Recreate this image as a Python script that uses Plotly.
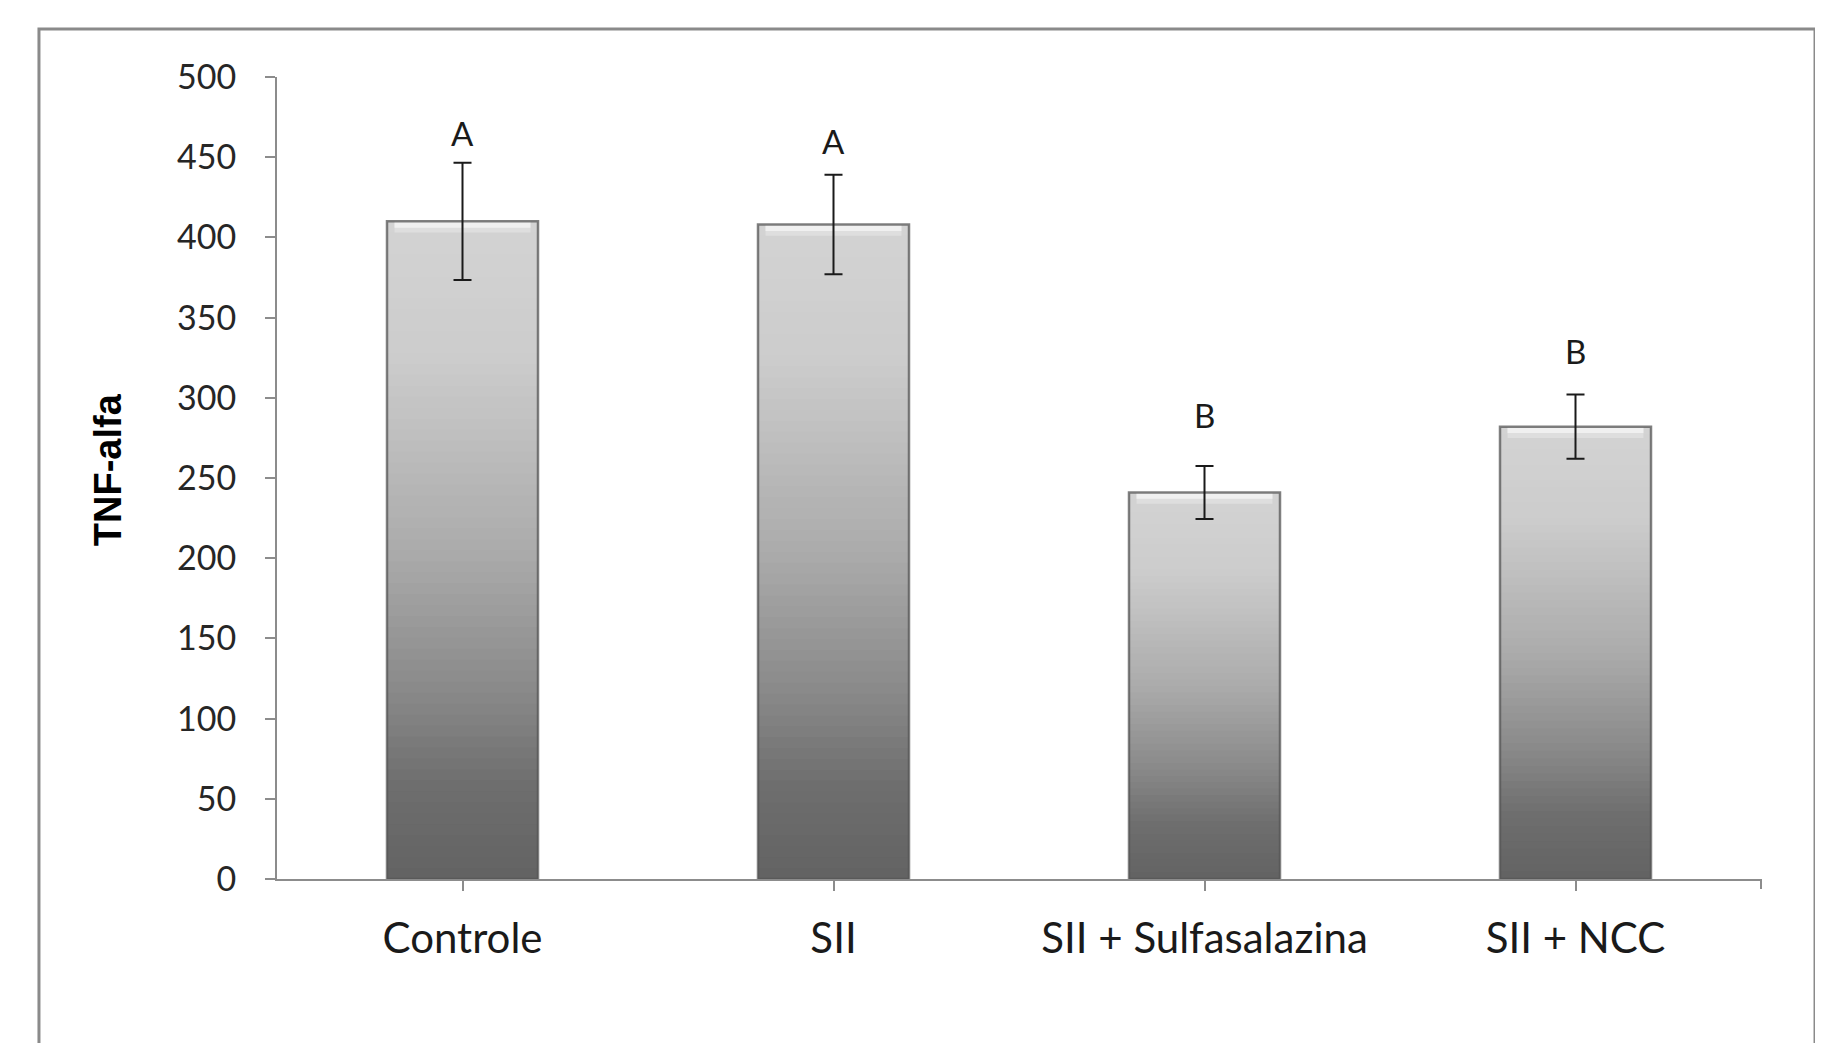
import plotly.graph_objects as go

categories = ["Controle", "SII", "SII + Sulfasalazina", "SII + NCC"]
values = [410, 408, 241, 282]
errors = [36.5, 31, 16.5, 20]
letters = ["A", "A", "B", "B"]
letter_y = [465, 460, 289, 329]
y_ticks = [0, 50, 100, 150, 200, 250, 300, 350, 400, 450, 500]

# gradient stops (fraction from top of bar, grey level)
stops = [(0.0, 0xD3), (0.2, 0xCC), (0.5, 0xAA), (0.7, 0x8A), (0.85, 0x6E), (1.0, 0x62)]


def grey_at(t):
    for (t0, g0), (t1, g1) in zip(stops[:-1], stops[1:]):
        if t0 <= t <= t1:
            g = g0 + (g1 - g0) * (t - t0) / (t1 - t0)
            g = int(round(g))
            return f"rgb({g},{g},{g})"
    g = stops[-1][1]
    return f"rgb({g},{g},{g})"


fig = go.Figure()
N = 60
BAR_W = 0.407
for k in range(N):
    frac = (N - k) / N
    fig.add_trace(go.Bar(
        x=categories,
        y=[v * frac for v in values],
        marker=dict(color=grey_at(1 - frac), line=dict(width=0)),
        width=BAR_W,
        hoverinfo="skip",
        showlegend=False,
    ))

# bevel highlight at top of each bar
for h, col in [(7, "rgb(222,222,222)"), (4, "rgb(240,240,240)")]:
    fig.add_trace(go.Bar(
        x=categories,
        y=[h] * len(values),
        base=[v - h for v in values],
        marker=dict(color=col, line=dict(width=0)),
        width=BAR_W * 0.9,
        hoverinfo="skip",
        showlegend=False,
    ))

# outline
fig.add_trace(go.Bar(
    x=categories,
    y=values,
    marker=dict(color="rgba(0,0,0,0)", line=dict(width=2.5, color="rgba(85,85,85,0.75)")),
    width=BAR_W,
    hoverinfo="skip",
    showlegend=False,
))

# error bars
fig.add_trace(go.Scatter(
    x=categories,
    y=values,
    mode="markers",
    marker=dict(size=1, opacity=0),
    error_y=dict(type="data", array=errors, visible=True, color="#1a1a1a", thickness=2, width=9),
    hoverinfo="skip",
    showlegend=False,
))

for c, t, yy in zip(categories, letters, letter_y):
    fig.add_annotation(x=c, y=yy, text=t, showarrow=False,
                       font=dict(family="Lato", size=33, color="#1a1a1a"),
                       xanchor="center", yanchor="middle")

# y axis title
fig.add_annotation(xref="paper", yref="paper", x=-0.1139, y=0.511,
                   text="<b>TNF-alfa</b>", textangle=-90, showarrow=False,
                   xanchor="center", yanchor="middle",
                   font=dict(family="Liberation Sans", size=38, color="#000000"))

# outer chart border
fig.add_shape(type="rect", xref="paper", yref="paper",
              x0=-0.1604, x1=1.0364, y0=-0.3, y1=1.0599,
              line=dict(color="#8a8a8a", width=3), fillcolor="rgba(0,0,0,0)", layer="below")
# tick at right end of x axis
fig.add_shape(type="line", xref="paper", yref="paper", x0=1, x1=1,
              ysizemode="pixel", yanchor=0, y0=0, y1=-10,
              line=dict(color="#8c8c8c", width=2))

fig.update_layout(
    width=1823, height=1043,
    margin=dict(l=269, r=70, t=69, b=172),
    paper_bgcolor="white", plot_bgcolor="white",
    barmode="overlay",
    bargap=0.593,
    showlegend=False,
    xaxis=dict(
        type="category",
        showline=True, linecolor="#8c8c8c", linewidth=2,
        ticks="outside", ticklen=10, tickcolor="#8c8c8c", tickwidth=2,
        tickfont=dict(family="Lato", size=42, color="#1a1a1a"),
        showgrid=False, zeroline=False,
        ticklabelstandoff=12,
    ),
    yaxis=dict(
        range=[0, 500],
        tickvals=y_ticks,
        showline=True, linecolor="#8c8c8c", linewidth=2,
        ticks="outside", ticklen=10, tickcolor="#8c8c8c", tickwidth=2,
        tickfont=dict(family="Lato", size=34, color="#262626"),
        showgrid=False, zeroline=False,
        ticklabelstandoff=22,
    ),
)

fig.write_html("out.html")
